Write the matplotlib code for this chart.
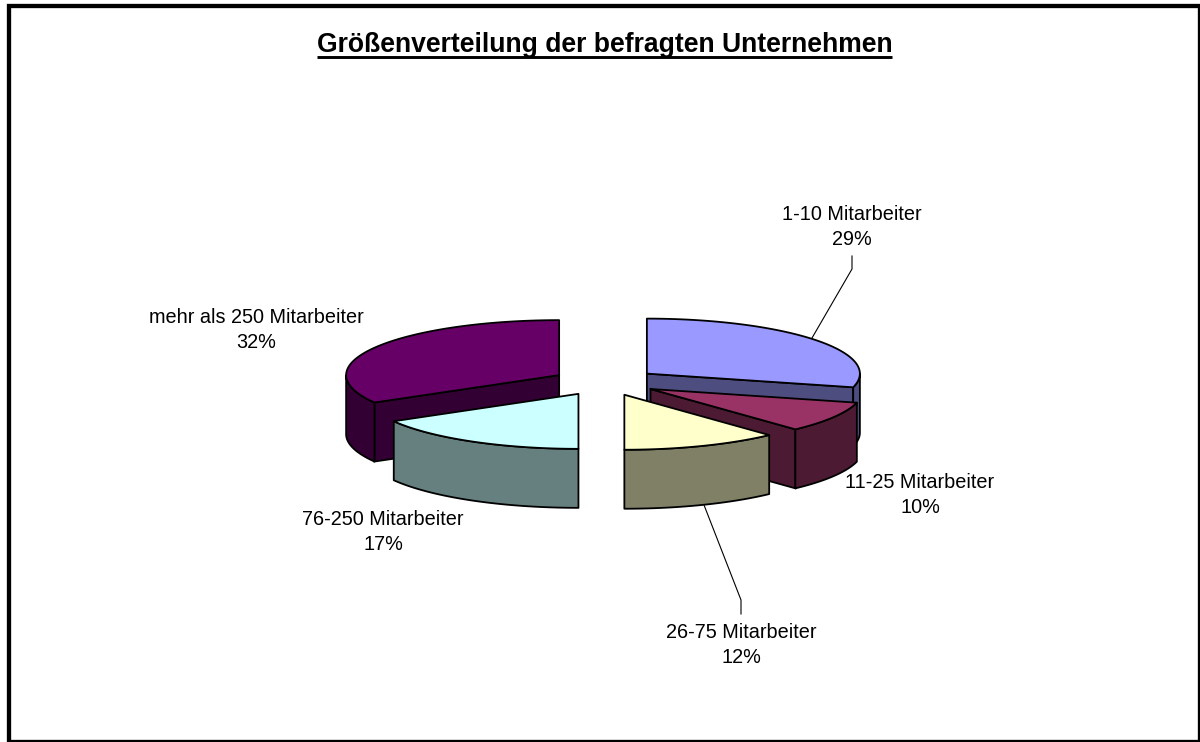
import numpy as np
import matplotlib
matplotlib.use('Agg')
import matplotlib.pyplot as plt
from matplotlib.patches import Polygon, Rectangle

plt.rcParams['font.family'] = ['Liberation Sans', 'DejaVu Sans']

titel = 'Größenverteilung der befragten Unternehmen'
kategorien = ['1-10 Mitarbeiter', '11-25 Mitarbeiter', '26-75 Mitarbeiter',
              '76-250 Mitarbeiter', 'mehr als 250 Mitarbeiter']
# printed percentages
prozent = [29, 10, 12, 17, 32]
# share of the circle as drawn, measured off the slices
anteile = [29.0, 9.1, 11.9, 16.7, 33.3]
farben = ['#9999FF', '#993366', '#FFFFCC', '#CCFFFF', '#660066']
seiten = ['#4D4D80', '#4D1A33', '#808066', '#668080', '#330033']

# label centres, leader lines in pixels of the 1200x742 image
label_pos = [(852, 227), (920, 495), (741, 645), (383, 532), (256, 330)]
leader = {0: [(852, 256), (852, 269), (812, 338)], 2: [(741, 614), (741, 600), (704, 505)]}

cx, cy = 605, 382     # pie centre
a, b = 213, 55        # ellipse of the top face
tiefe = 59            # height of the pie
explode = 53
lw = 1.3


def rand(t, x0, y0):
    t = np.radians(t)
    return x0 + a * np.sin(t), y0 - b * np.cos(t)


fig = plt.figure(figsize=(12, 7.42), dpi=100)
ax = fig.add_axes([0, 0, 1, 1])
ax.set_xlim(0, 1200)
ax.set_ylim(742, 0)
ax.axis('off')

grenzen = np.concatenate([[0], np.cumsum(anteile)]) * 3.6 / np.sum(anteile) * 100

# back slices first
for z, i in enumerate([4, 0, 1, 3, 2], start=10):
    t0, t1 = grenzen[i], grenzen[i + 1]
    mitte = np.radians((t0 + t1) / 2)
    x0 = cx + explode * np.sin(mitte)
    y0 = cy - explode * b / a * np.cos(mitte)

    # flat sides, start edge looks to t0-90, end edge to t1+90
    for t, normal in [(t0, t0 - 90), (t1, t1 + 90)]:
        if np.cos(np.radians(normal)) < -1e-6:
            xr, yr = rand(t, x0, y0)
            ax.add_patch(Polygon([(x0, y0), (xr, yr), (xr, yr + tiefe), (x0, y0 + tiefe)],
                                 fc=seiten[i], ec='black', lw=lw, zorder=z))

    # outer wall, only the front half shows
    w0, w1 = max(t0, 90), min(t1, 270)
    if w1 > w0:
        t = np.linspace(w0, w1, 60)
        xs, ys = rand(t, x0, y0)
        pts = np.r_[np.c_[xs, ys], np.c_[xs[::-1], ys[::-1] + tiefe]]
        ax.add_patch(Polygon(pts, fc=seiten[i], ec='black', lw=lw, zorder=z, joinstyle='round'))

    # top face
    t = np.linspace(t0, t1, 120)
    xs, ys = rand(t, x0, y0)
    pts = np.r_[[(x0, y0)], np.c_[xs, ys]]
    ax.add_patch(Polygon(pts, fc=farben[i], ec='black', lw=lw, zorder=z, joinstyle='round'))

for i, pts in leader.items():
    ax.plot(*zip(*pts), color='black', lw=0.8, zorder=5)

for i, (x, y) in enumerate(label_pos):
    ax.text(x, y, f'{kategorien[i]}\n{prozent[i]}%', ha='center', va='center',
            fontsize=14.3, color='black', linespacing=1.37, zorder=30)

tt = ax.text(604.5, 51.7, titel, ha='center', va='baseline', fontsize=19.1,
             fontweight='bold', color='black')
fig.canvas.draw()
ext = tt.get_window_extent()
ax.plot([ext.x0, ext.x1], [56.5, 56.5], color='black', lw=2.1, solid_capstyle='butt')

# chart frame
ax.add_patch(Rectangle((8.8, 6.2), 1191.2, 735.8, fc='none', ec='black', lw=3.1, zorder=40))

fig.savefig('out.png', dpi=100, facecolor='white')
